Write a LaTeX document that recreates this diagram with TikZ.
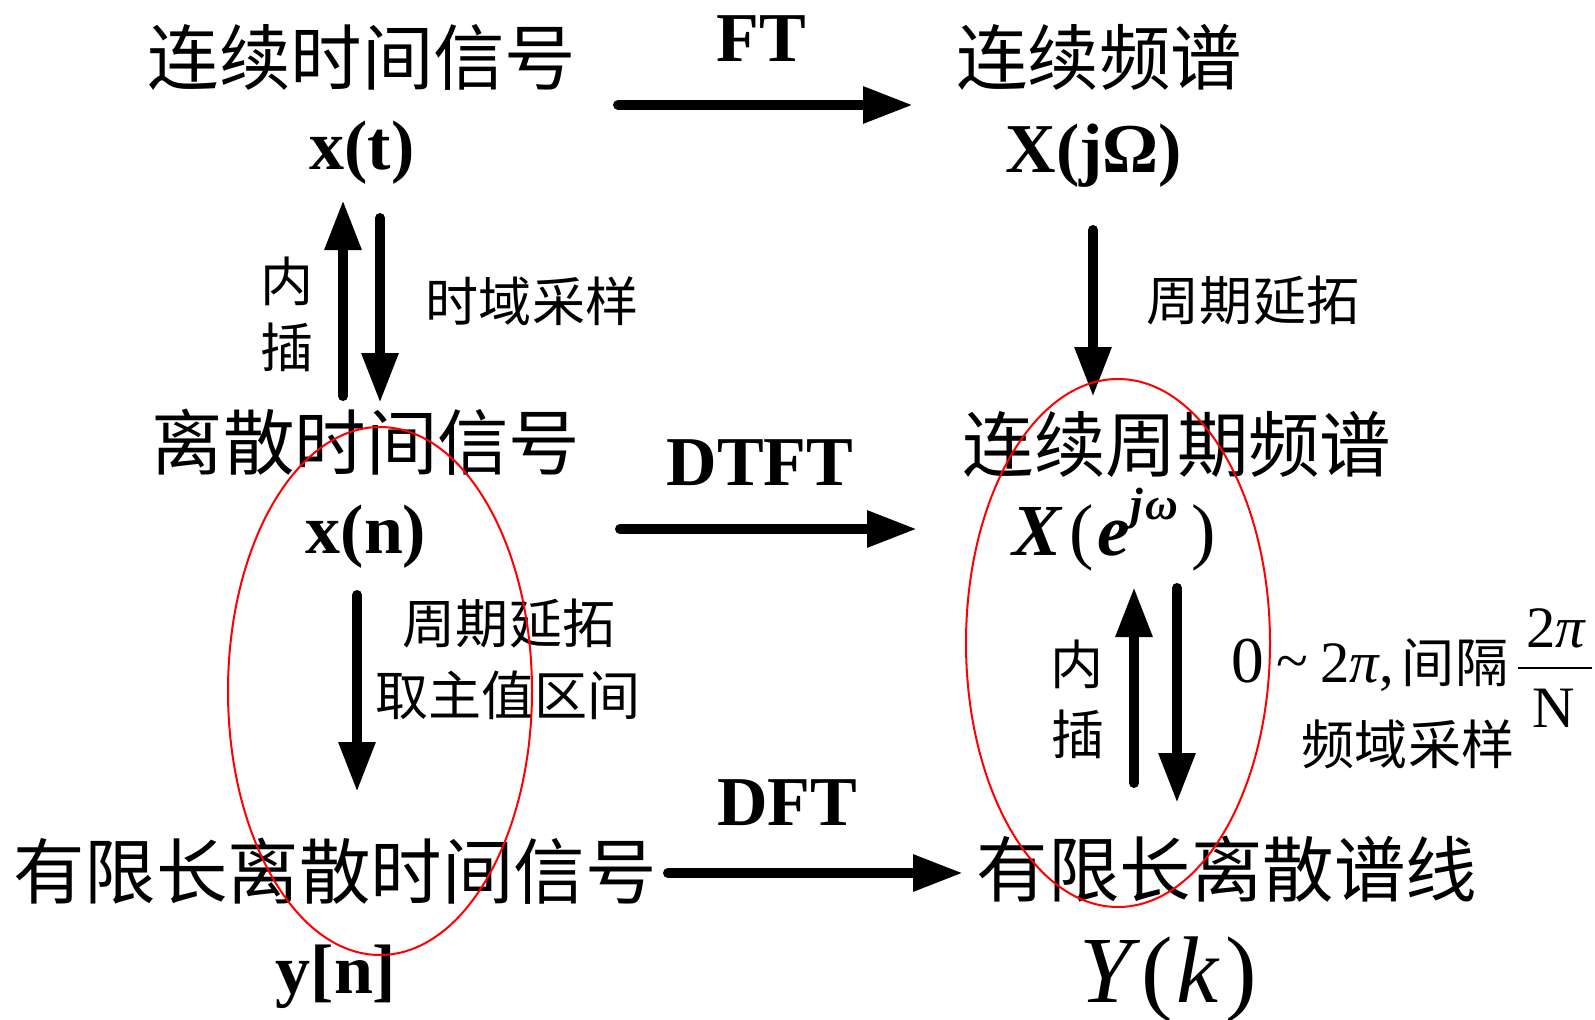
\documentclass[tikz,border=0pt]{standalone}
\usepackage{fontspec}
\setmainfont{Liberation Serif}
\newfontfamily\cjk{Noto Sans CJK SC}
\usetikzlibrary{arrows.meta}
\tikzset{
  big/.style={inner sep=0pt, anchor=base, font=\cjk\fontsize{53.6pt}{60pt}\selectfont},
  lab/.style={inner sep=0pt, anchor=base, font=\cjk\fontsize{39.8pt}{44pt}\selectfont},
  lat/.style={inner sep=0pt, anchor=base, font=\bfseries\fontsize{52.5pt}{60pt}\selectfont},
  plain/.style={inner sep=0pt, anchor=base},
  fatarrow/.style={line width=7.5pt, line cap=round, -{Triangle[length=37.5pt,width=26pt]}},
  ring/.style={draw=red, line width=1.5pt},
}
\begin{document}
\begin{tikzpicture}[x=0.75pt,y=-0.75pt]
\useasboundingbox (0,0) rectangle (1595,1020);
\fill[white] (0,0) rectangle (1595,1020);

% main texts
\node[big] (ct) at (362,85) {连续时间信号};
\node[lat] (xt) at (362,170) {x(t)};
\node[big] (cs) at (1099,85) {连续频谱};
\node[lat] (Xj) at (1094,172) {X(jΩ)};
\node[lat] (ft) at (761,62) {FT};

\node[big] (dt) at (366,469) {离散时间信号};
\node[lat] (xn) at (366,553) {x(n)};
\node[big] (cps) at (1177,471) {连续周期频谱};
\node[plain, font=\fontsize{55pt}{60pt}\selectfont] (Xe) at (1114,555)
  {{\bfseries\itshape X}\hspace{6pt}(\hspace{3pt}{\bfseries\itshape e}\raisebox{27pt}{\fontsize{34pt}{36pt}\selectfont\bfseries\itshape j\hspace{2pt}ω}\hspace{10pt})};
\node[lat] (dtft) at (760,485) {DTFT};

\node[big] (fdt) at (335,898) {有限长离散时间信号};
\node[lat] (yn) at (336,993) {y[n]};
\node[big] (fds) at (1227,896) {有限长离散谱线};
\node[plain, font=\fontsize{71pt}{76pt}\selectfont] (Yk) at (1168,1002)
  {{\itshape Y}\hspace{7pt}(\hspace{3pt}{\itshape k}\hspace{5pt})};
\node[lat] (dft) at (787,825) {DFT};

% labels
\node[lab] (nei1) at (287,301) {内};
\node[lab] (cha1) at (287,367) {插};
\node[lab] (sy) at (532,321) {时域采样};
\node[lab] (zq1) at (1253,320) {周期延拓};
\node[lab] (zq2) at (509,643) {周期延拓};
\node[lab] (qz) at (508,715) {取主值区间};
\node[lab] (nei2) at (1077,684) {内};
\node[lab] (cha2) at (1078,754) {插};
\node[lab] (py) at (1408,764) {频域采样};

% formula 0 ~ 2pi, interval 2pi/N
\node[plain, font=\fontsize{49pt}{52pt}\selectfont] (zero) at (1248,682) {0};
\node[plain, font=\fontsize{44pt}{48pt}\selectfont] (tl) at (1292,680) {\textasciitilde};
\node[plain, anchor=base west, font=\fontsize{44pt}{48pt}\selectfont] (tp) at (1320,682) {2{\itshape π},};
\node[lab] (jg) at (1455,682) {间隔};
\node[plain, font=\fontsize{44pt}{48pt}\selectfont] (num) at (1556,647) {2{\itshape π}};
\node[plain, font=\fontsize{44pt}{48pt}\selectfont] (den) at (1554,727) {N};
\coordinate (barL) at (1518,668);
\coordinate (barR) at (1592,668);
\draw[line width=1.6pt] (barL) -- (barR);

% arrow end points
\coordinate (a1) at (618,105);  \coordinate (a2) at (913,105);
\coordinate (b1) at (620,529);  \coordinate (b2) at (917,529);
\coordinate (c1) at (668,873);  \coordinate (c2) at (963,873);
\coordinate (u1) at (343,396);  \coordinate (u2) at (343,200);
\coordinate (d1) at (380,218);  \coordinate (d2) at (380,403);
\coordinate (r1) at (1093,230); \coordinate (r2) at (1093,397);
\coordinate (l1) at (357,595);  \coordinate (l2) at (357,792);
\coordinate (v1) at (1134,783); \coordinate (v2) at (1134,587);
\coordinate (w1) at (1177,588); \coordinate (w2) at (1177,803);

\draw[fatarrow] (a1) -- (a2);
\draw[fatarrow] (b1) -- (b2);
\draw[fatarrow] (c1) -- (c2);
\draw[fatarrow] (u1) -- (u2);
\draw[fatarrow] (d1) -- (d2);
\draw[fatarrow] (r1) -- (r2);
\draw[fatarrow] (l1) -- (l2);
\draw[fatarrow] (v1) -- (v2);
\draw[fatarrow] (w1) -- (w2);

% red ellipses
\draw[ring] (380,691) ellipse [x radius=114pt, y radius=198pt];
\draw[ring] (1118,643) ellipse [x radius=114pt, y radius=198pt];
\end{tikzpicture}
\end{document}
